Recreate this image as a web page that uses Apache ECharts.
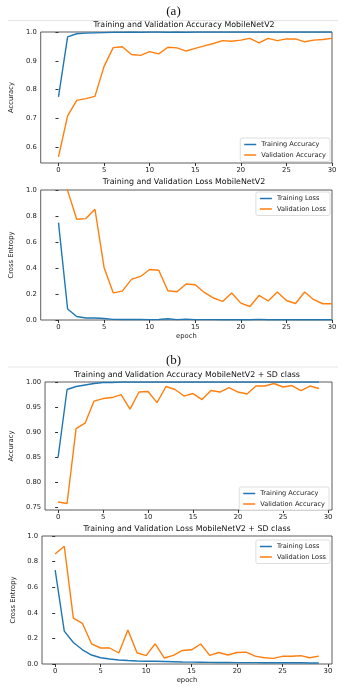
<!DOCTYPE html>
<html>
<head>
<meta charset="utf-8">
<script src="https://cdn.jsdelivr.net/npm/echarts@6/dist/echarts.min.js"></script>
<style>
  body { margin: 0; background: #fff; }
  #chart { width: 347px; height: 700px; }
</style>
</head>
<body>
<div id="chart"></div>
<script>
// epochs
var epochsA = [0,1,2,3,4,5,6,7,8,9,10,11,12,13,14,15,16,17,18,19,20,21,22,23,24,25,26,27,28,29,30];
var epochsB = [0,1,2,3,4,5,6,7,8,9,10,11,12,13,14,15,16,17,18,19,20,21,22,23,24,25,26,27,28,29];

// (a) MobileNetV2
var trainAccA = [0.775,0.983,0.994,0.996,0.997,0.998,0.999,0.999,1.0,0.999,1.0,1.0,0.999,1.0,0.999,1.0,1.0,1.0,1.0,1.0,1.0,1.0,1.0,1.0,1.0,1.0,1.0,1.0,1.0,1.0,1.0];
var valAccA = [0.567,0.709,0.763,0.769,0.777,0.881,0.946,0.949,0.922,0.919,0.932,0.924,0.947,0.945,0.934,0.943,0.952,0.960,0.970,0.968,0.972,0.978,0.962,0.978,0.970,0.976,0.976,0.966,0.972,0.974,0.978];
var trainLossA = [0.749,0.085,0.027,0.015,0.015,0.012,0.005,0.004,0.005,0.004,0.003,0.004,0.010,0.003,0.007,0.003,0.003,0.003,0.002,0.003,0.002,0.002,0.005,0.002,0.002,0.002,0.002,0.002,0.002,0.002,0.002];
var valLossA = [1.35,0.995,0.775,0.780,0.852,0.404,0.209,0.222,0.312,0.335,0.388,0.383,0.225,0.217,0.277,0.271,0.212,0.169,0.143,0.207,0.130,0.104,0.189,0.146,0.215,0.150,0.127,0.215,0.156,0.125,0.125];

// (b) MobileNetV2 + SD class
var trainAccB = [0.850,0.985,0.991,0.994,0.997,0.999,0.999,1.0,1.0,1.0,1.0,1.0,1.0,1.0,1.0,1.0,1.0,1.0,1.0,1.0,1.0,1.0,1.0,1.0,1.0,1.0,1.0,1.0,1.0,1.0];
var valAccB = [0.761,0.758,0.907,0.918,0.962,0.967,0.969,0.975,0.946,0.980,0.981,0.959,0.991,0.985,0.972,0.977,0.965,0.983,0.980,0.989,0.980,0.976,0.992,0.992,0.997,0.990,0.993,0.983,0.992,0.987];
var trainLossB = [0.733,0.257,0.168,0.111,0.070,0.049,0.039,0.031,0.027,0.024,0.022,0.022,0.020,0.018,0.016,0.015,0.014,0.013,0.012,0.012,0.011,0.011,0.011,0.010,0.010,0.010,0.010,0.010,0.008,0.008];
var valLossB = [0.860,0.920,0.358,0.317,0.158,0.125,0.125,0.086,0.265,0.088,0.065,0.158,0.047,0.067,0.106,0.111,0.156,0.067,0.090,0.070,0.090,0.093,0.062,0.049,0.044,0.060,0.060,0.065,0.049,0.062];

var xTicks = [0,5,10,15,20,25,30];
var yTicksAccA = [0.6,0.7,0.8,0.9,1.0];
var yTicksAccB = [0.75,0.80,0.85,0.90,0.95,1.00];
var yTicksLoss = [0,0.2,0.4,0.6,0.8,1.0];

var blue = '#1f77b4', orange = '#ff7f0e';
var font = 'DejaVu Sans';

function pairs(xs, ys) {
  return xs.map(function (x, i) { return [x, ys[i]]; });
}

function xAx(idx, min, max, withName) {
  return {
    type: 'value', gridIndex: idx, min: min, max: max,
    axisLine: { show: false },
    axisTick: { show: true, inside: false, length: 3, customValues: xTicks, lineStyle: { color: '#333' } },
    axisLabel: { customValues: xTicks, fontSize: 6.8, fontFamily: font, color: '#222', margin: 4 },
    splitLine: { show: false },
    name: withName ? 'epoch' : '', nameLocation: 'middle', nameGap: 13,
    nameTextStyle: { fontSize: 6.8, fontFamily: font, color: '#222' }
  };
}

function yAx(idx, min, max, ticks, digits, name, gap) {
  return {
    type: 'value', gridIndex: idx, min: min, max: max,
    axisLine: { show: false },
    axisTick: { show: true, inside: false, length: 3, customValues: ticks, lineStyle: { color: '#333' } },
    axisLabel: {
      customValues: ticks, fontSize: 6.8, fontFamily: font, color: '#222', margin: 4,
      formatter: function (v) { return Number(v).toFixed(digits); }
    },
    splitLine: { show: false },
    name: name, nameLocation: 'middle', nameGap: gap,
    nameTextStyle: { fontSize: 6.8, fontFamily: font, color: '#222' }
  };
}

function line(name, xi, data, color) {
  return {
    name: name, type: 'line', xAxisIndex: xi, yAxisIndex: xi,
    data: data, showSymbol: false, symbol: 'none', clip: true,
    lineStyle: { width: 1.4, color: color }, itemStyle: { color: color },
    emphasis: { disabled: true }, animation: false
  };
}

function legend(names, right, top) {
  return {
    data: names, orient: 'vertical', right: right, top: top,
    icon: 'rect', itemWidth: 12, itemHeight: 1.5, itemGap: 3.5, itemTextGap: 5,
    padding: [3, 4], borderColor: '#d6d6d6', borderWidth: 0.8, borderRadius: 2,
    backgroundColor: 'rgba(255,255,255,0.8)',
    textStyle: { fontSize: 6.6, fontFamily: font, color: '#222' }
  };
}

function gridBox(left, top, width, height) {
  return { left: left, top: top, width: width, height: height, show: true,
    borderColor: '#333', borderWidth: 0.8, backgroundColor: 'transparent' };
}

function titleText(text, x, y) {
  return { type: 'text', x: x, y: y, style: { text: text, fontSize: 7.9, fontFamily: font,
    fill: '#111', textAlign: 'center', textVerticalAlign: 'middle' } };
}

var chart = echarts.init(document.getElementById('chart'));
var options = {
  animation: false,
  grid: [
    gridBox(36, 32, 296, 131),
    gridBox(36, 190, 296, 130),
    gridBox(42, 382, 290, 128),
    gridBox(42, 536, 290, 128)
  ],
  xAxis: [
    xAx(0, -1.95, 30, false),
    xAx(1, -1.95, 30, true),
    xAx(2, -1.45, 30.45, false),
    xAx(3, -1.45, 30.45, true)
  ],
  yAxis: [
    yAx(0, 0.546, 1.0, yTicksAccA, 1, 'Accuracy', 19),
    yAx(1, 0, 1.0, yTicksLoss, 1, 'Cross Entropy', 19),
    yAx(2, 0.745, 1.0, yTicksAccB, 2, 'Accuracy', 22),
    yAx(3, 0, 1.0, yTicksLoss, 1, 'Cross Entropy', 19)
  ],
  legend: [
    legend(['Training Accuracy', 'Validation Accuracy'], 17, 138),
    legend(['Training Loss', 'Validation Loss'], 17, 192),
    legend(['Training Accuracy', 'Validation Accuracy'], 18, 487),
    legend(['Training Loss', 'Validation Loss'], 17, 540)
  ],
  series: [
    line('Training Accuracy', 0, pairs(epochsA, trainAccA), blue),
    line('Validation Accuracy', 0, pairs(epochsA, valAccA), orange),
    line('Training Loss', 1, pairs(epochsA, trainLossA), blue),
    line('Validation Loss', 1, pairs(epochsA, valLossA), orange),
    line('Training Accuracy', 2, pairs(epochsB, trainAccB), blue),
    line('Validation Accuracy', 2, pairs(epochsB, valAccB), orange),
    line('Training Loss', 3, pairs(epochsB, trainLossB), blue),
    line('Validation Loss', 3, pairs(epochsB, valLossB), orange)
  ],
  graphic: [
    { type: 'text', x: 173.5, y: 12, style: { text: '(a)', fontSize: 13, fontFamily: 'Liberation Serif',
      fill: '#111', textAlign: 'center', textVerticalAlign: 'middle' } },
    { type: 'line', shape: { x1: 8, y1: 20.5, x2: 338, y2: 20.5 }, style: { stroke: '#e6e6e6', lineWidth: 1 } },
    { type: 'text', x: 173.5, y: 361, style: { text: '(b)', fontSize: 13, fontFamily: 'Liberation Serif',
      fill: '#111', textAlign: 'center', textVerticalAlign: 'middle' } },
    { type: 'line', shape: { x1: 8, y1: 367, x2: 338, y2: 367 }, style: { stroke: '#e6e6e6', lineWidth: 1 } },
    titleText('Training and Validation Accuracy MobileNetV2', 184, 25),
    titleText('Training and Validation Loss MobileNetV2', 184, 182),
    titleText('Training and Validation Accuracy MobileNetV2 + SD class', 187, 375),
    titleText('Training and Validation Loss MobileNetV2 + SD class', 187, 529)
  ]
};
chart.setOption(options);
</script>
</body>
</html>
